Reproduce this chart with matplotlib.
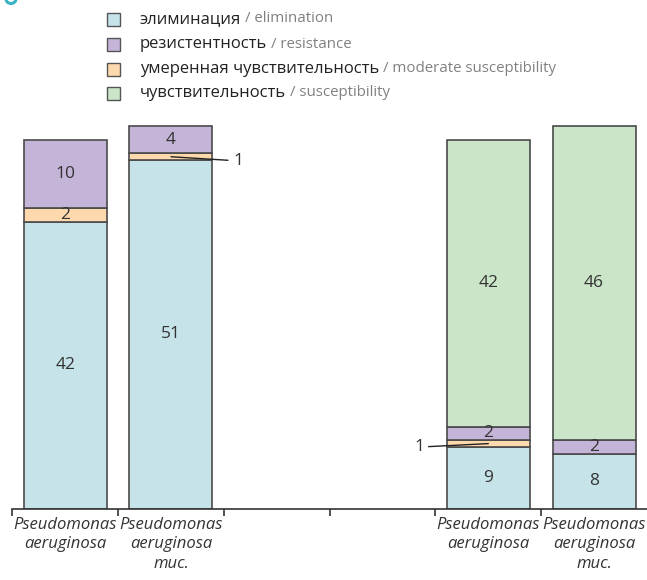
import matplotlib
matplotlib.use("Agg")
import matplotlib.pyplot as plt
from matplotlib.patches import Rectangle, Circle
import numpy as np

# ---- data ----
positions = [0, 1, 4, 5]
group_labels = ["Pseudomonas\naeruginosa", "Pseudomonas\naeruginosa\nmuc.",
                "Pseudomonas\naeruginosa", "Pseudomonas\naeruginosa\nmuc."]
elimination = [42, 51, 9, 8]
moderate = [2, 1, 1, 0]
resistance = [10, 4, 2, 2]
susceptibility = [0, 0, 42, 46]

series_ru = ["элиминация", "резистентность", "умеренная чувствительность", "чувствительность"]
series_en = ["elimination", "resistance", "moderate susceptibility", "susceptibility"]
colors = {"elim": "#c5e3e8", "res": "#c4b4d8", "mod": "#ffd9ae", "sus": "#cbe5c8"}
legend_colors = [colors["elim"], colors["res"], colors["mod"], colors["sus"]]

FONT = "Open Sans"
EDGE = "#4a4a4a"

fig = plt.figure(figsize=(6.47, 5.8), dpi=100)
ax = fig.add_axes([12.3 / 647, (580 - 508.5) / 580, 1 - 12.3 / 647, 58 * 6.83 / 580])
ax.set_xlim(-0.5, 5.5)
ax.set_ylim(0, 58)

width = 0.785
stack_order = [("elim", elimination), ("mod", moderate), ("res", resistance), ("sus", susceptibility)]
bottoms = np.zeros(len(positions))
for key, vals in stack_order:
    vals = np.array(vals, dtype=float)
    mask = vals > 0
    ax.bar(np.array(positions)[mask], vals[mask], width=width, bottom=bottoms[mask],
           color=colors[key], edgecolor=EDGE, linewidth=1.2, zorder=2)
    for x, b, v in zip(positions, bottoms, vals):
        if v > 1:
            ax.text(x, b + v / 2, f"{int(v)}", ha="center", va="center",
                    fontsize=12.5, family=FONT, color="#333333", zorder=3)
    bottoms = bottoms + vals

# annotations for the "1" segments
mod_bottom = np.array(elimination, dtype=float)
ax.annotate("1", xy=(positions[1], mod_bottom[1] + moderate[1] / 2), xytext=(45, -3),
            textcoords="offset points", ha="left", va="center", fontsize=12.5, family=FONT,
            color="#333333", arrowprops=dict(arrowstyle="-", color="#222222", lw=1.0,
                                             shrinkA=2, shrinkB=0), zorder=4)
ax.annotate("1", xy=(positions[2], mod_bottom[2] + moderate[2] / 2), xytext=(-46, -2.5),
            textcoords="offset points", ha="right", va="center", fontsize=12.5, family=FONT,
            color="#333333", arrowprops=dict(arrowstyle="-", color="#222222", lw=1.0,
                                             shrinkA=1, shrinkB=0), zorder=4)

# axes styling
for s in ["top", "right", "left"]:
    ax.spines[s].set_visible(False)
ax.spines["bottom"].set_color("#333333")
ax.spines["bottom"].set_linewidth(1.2)
ax.set_yticks([])
ax.set_xticks(np.arange(-0.5, 5.0, 1.0))
ax.set_xticklabels([])
ax.tick_params(axis="x", which="major", direction="out", length=5, width=1.2, color="#333333")
ax.set_xticks(positions, minor=True)
ax.set_xticklabels(group_labels, minor=True, fontsize=12, family=FONT, style="italic",
                   color="#333333", linespacing=1.3)
ax.tick_params(axis="x", which="minor", length=0, pad=6)

# legend (manual)
fig.canvas.draw()
renderer = fig.canvas.get_renderer()
ys = [19, 44, 69, 93]
for ru, en, c, y in zip(series_ru, series_en, legend_colors, ys):
    fig.add_artist(Rectangle((107 / 647, 1 - (y + 6.5) / 580), 13 / 647, 13 / 580,
                             transform=fig.transFigure, facecolor=c, edgecolor="#555555", lw=1.0))
    t = fig.text(140 / 647, 1 - y / 580, ru, ha="left", va="center", fontsize=12,
                 family=FONT, color="#222222")
    bb = t.get_window_extent(renderer)
    fig.text(bb.x1 / 647 + 0.006, 1 - y / 580, "/ " + en, ha="left", va="center",
             fontsize=10.8, family=FONT, color="#808080")

# small decorative ring at top-left
fig.add_artist(Circle((11 / 647, 1 + 1 / 580), 5 / 647, transform=fig.transFigure,
                      fill=False, edgecolor="#3ab4c4", lw=2.2))

fig.savefig("out.png", dpi=100)
